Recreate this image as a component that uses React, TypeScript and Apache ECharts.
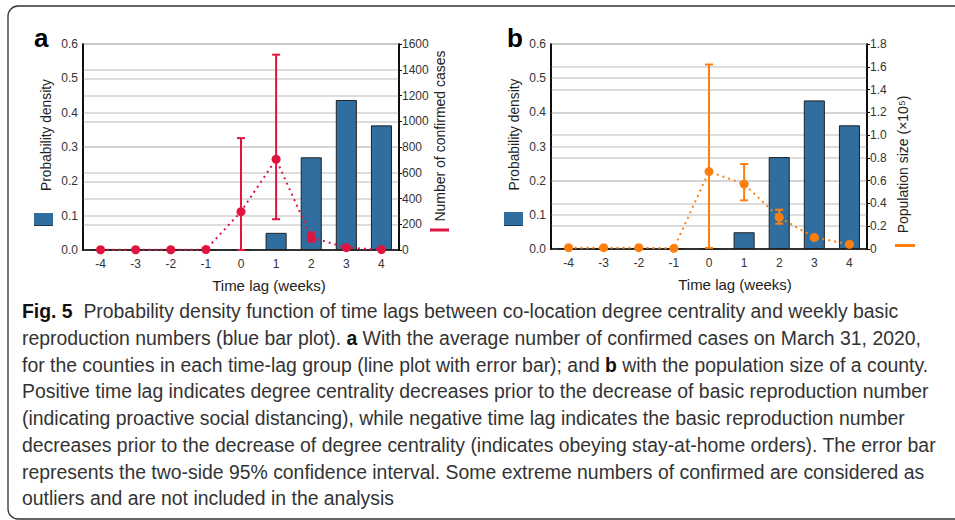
import React, { useEffect, useRef } from "react";
import * as echarts from "echarts";

const categories = ["-4", "-3", "-2", "-1", "0", "1", "2", "3", "4"];
const densityA = [0.001, 0.001, 0.001, 0.001, 0.002, 0.05, 0.27, 0.437, 0.363];
const densityB = [0.001, 0.001, 0.001, 0.001, 0.002, 0.049, 0.269, 0.435, 0.362];

const casesMean = [2, 2, 2, 3, 298, 705, 98, 18, 3];
const casesLow = [2, 2, 2, 3, 0, 239, 65, 10, 3];
const casesHigh = [2, 2, 2, 3, 869, 1517, 137, 26, 3];

const popMean = [0.012, 0.012, 0.012, 0.006, 0.68, 0.57, 0.278, 0.102, 0.041];
const popLow = [0.012, 0.012, 0.012, 0.006, 0.01, 0.427, 0.222, 0.094, 0.036];
const popHigh = [0.012, 0.012, 0.012, 0.006, 1.62, 0.746, 0.345, 0.11, 0.046];

const leftTicks = [0, 0.1, 0.2, 0.3, 0.4, 0.5, 0.6];
const rightTicksA = [0, 200, 400, 600, 800, 1000, 1200, 1400, 1600];
const rightTicksB = [0, 0.2, 0.4, 0.6, 0.8, 1.0, 1.2, 1.4, 1.6, 1.8];

const captionLines = [
  "{b|Fig. 5}  Probability density function of time lags between co-location degree centrality and weekly basic",
  "reproduction numbers (blue bar plot). {b|a} With the average number of confirmed cases on March 31, 2020,",
  "for the counties in each time-lag group (line plot with error bar); and {b|b} with the population size of a county.",
  "Positive time lag indicates degree centrality decreases prior to the decrease of basic reproduction number",
  "(indicating proactive social distancing), while negative time lag indicates the basic reproduction number",
  "decreases prior to the decrease of degree centrality (indicates obeying stay-at-home orders). The error bar",
  "represents the two-side 95% confidence interval. Some extreme numbers of confirmed are considered as",
  "outliers and are not included in the analysis",
];

const BLUE = "#2F6E9E";
const RED = "#E0143F";
const ORANGE = "#FF7F0E";
const FONT = "Liberation Sans, Arial, sans-serif";
const CAPFONT = "'Liberation Sans Narrow', 'Liberation Sans', sans-serif";

function errorRender(color: string) {
  return (params: any, api: any) => {
    const x = api.value(0);
    const lo = api.coord([x, api.value(1)]);
    const hi = api.coord([x, api.value(2)]);
    if (Math.abs(lo[1] - hi[1]) < 0.5) return { type: "group", children: [] };
    const w = 4;
    const style = { stroke: color, lineWidth: 2 };
    return {
      type: "group",
      children: [
        { type: "line", shape: { x1: lo[0], y1: lo[1], x2: hi[0], y2: hi[1] }, style },
        { type: "line", shape: { x1: hi[0] - w, y1: hi[1], x2: hi[0] + w, y2: hi[1] }, style },
        { type: "line", shape: { x1: lo[0] - w, y1: lo[1], x2: lo[0] + w, y2: lo[1] }, style },
      ],
    };
  };
}

export default function App() {
  const ref = useRef<HTMLDivElement>(null);
  useEffect(() => {
    document.body.style.margin = "0";
    const chart = echarts.init(ref.current!, null, { renderer: "svg" });
    const gridCommon = { top: 44, width: 316, height: 206, show: true, borderColor: "#000", borderWidth: 1.5, backgroundColor: "transparent" };
    const xAxisBase = (gi: number, shift: number) => ({
      type: "category",
      gridIndex: gi,
      data: categories,
      axisLine: { lineStyle: { color: "#000", width: 1.5 } },
      axisTick: { show: false },
      axisLabel: { fontSize: 12, color: "#333", margin: 8, fontFamily: FONT },
      name: "Time lag (weeks)",
      nameLocation: "middle",
      nameGap: 28,
      nameTextStyle: { fontSize: 15, color: "#222", fontFamily: FONT, padding: [0, 0, 0, shift] },
    });
    const leftAxis = (gi: number) => ({
      type: "value",
      gridIndex: gi,
      min: leftTicks[0],
      max: leftTicks[leftTicks.length - 1],
      interval: 0.1,
      axisLine: { show: true, lineStyle: { color: "#000", width: 1.5 } },
      axisTick: { show: false },
      axisLabel: { fontSize: 12, color: "#333", margin: 5, fontFamily: FONT, formatter: (v: number) => v.toFixed(1) },
      splitLine: { lineStyle: { color: "#d2d2d2", width: 1.5 } },
      name: "Probability density",
      nameLocation: "middle",
      nameRotate: 90,
      nameGap: 30,
      nameTextStyle: { fontSize: 13.8, color: "#222", fontFamily: FONT, padding: [0, 0, 0, 24] },
    });
    const rightAxis = (gi: number, ticks: number[], interval: number, name: string, gap: number, pad: number[], fmt: (v: number) => string) => ({
      type: "value",
      gridIndex: gi,
      position: "right",
      min: ticks[0],
      max: ticks[ticks.length - 1],
      interval,
      axisLine: { show: true, lineStyle: { color: "#000", width: 1.5 } },
      axisTick: { show: true, length: 3, lineStyle: { color: "#000" } },
      axisLabel: { fontSize: 12, color: "#333", margin: 3, fontFamily: FONT, formatter: fmt },
      splitLine: { show: true, lineStyle: { color: "#d2d2d2", width: 1.5 } },
      name,
      nameLocation: "middle",
      nameRotate: 90,
      nameGap: gap,
      nameTextStyle: { fontSize: 14, color: "#222", fontFamily: FONT, padding: pad },
    });
    const barSeries = (xi: number, yi: number, data: number[]) => ({
      type: "bar",
      xAxisIndex: xi,
      yAxisIndex: yi,
      data,
      barWidth: "60%",
      itemStyle: { color: BLUE, borderColor: "#222", borderWidth: 1 },
      z: 2,
    });
    const lineSeries = (xi: number, yi: number, data: number[], color: string) => ({
      type: "line",
      xAxisIndex: xi,
      yAxisIndex: yi,
      data,
      symbol: "circle",
      symbolSize: 9,
      itemStyle: { color },
      lineStyle: { color, width: 2, type: [2, 4] },
      z: 4,
    });
    const errSeries = (xi: number, yi: number, lo: number[], hi: number[], color: string) => ({
      type: "custom",
      xAxisIndex: xi,
      yAxisIndex: yi,
      data: lo.map((l, i) => [i, l, hi[i]]),
      renderItem: errorRender(color),
      z: 5,
    });
    const caption = captionLines.join("\n");
    chart.setOption({
      animation: false,
      textStyle: { fontFamily: FONT },
      grid: [
        { ...gridCommon, left: 83 },
        { ...gridCommon, left: 551, height: 205 },
      ],
      xAxis: [xAxisBase(0, 56), xAxisBase(1, 52)],
      yAxis: [
        leftAxis(0),
        rightAxis(0, rightTicksA, 200, "Number of confirmed cases", 34, [0, 0, 0, 22], (v: number) => String(v)),
        leftAxis(1),
        rightAxis(1, rightTicksB, 0.2, "Population size (×10⁵)", 29, [0, 36, 0, 0], (v: number) => (v === 0 ? "0" : v.toFixed(1))),
      ],
      series: [
        barSeries(0, 0, densityA),
        lineSeries(0, 1, casesMean, RED),
        errSeries(0, 1, casesLow, casesHigh, RED),
        barSeries(1, 2, densityB),
        lineSeries(1, 3, popMean, ORANGE),
        errSeries(1, 3, popLow, popHigh, ORANGE),
      ],
      graphic: [
        { type: "rect", shape: { x: 8, y: 6, width: 1000, height: 513, r: 10 }, style: { fill: "none", stroke: "#333", lineWidth: 1.3 }, silent: true },
        { type: "text", x: 34, y: 25, style: { text: "a", font: "bold 26px " + FONT, fill: "#000" } },
        { type: "text", x: 507, y: 25, style: { text: "b", font: "bold 26px " + FONT, fill: "#000" } },
        { type: "rect", shape: { x: 34, y: 213, width: 19, height: 12 }, style: { fill: BLUE } },
        { type: "line", shape: { x1: 34, y1: 225.5, x2: 53, y2: 225.5 }, style: { stroke: "#1a3a55", lineWidth: 1 } },
        { type: "rect", shape: { x: 504, y: 212, width: 19, height: 13 }, style: { fill: BLUE } },
        { type: "line", shape: { x1: 504, y1: 225.5, x2: 523, y2: 225.5 }, style: { stroke: "#1a3a55", lineWidth: 1 } },
        { type: "line", shape: { x1: 430, y1: 230, x2: 449, y2: 230 }, style: { stroke: RED, lineWidth: 3 } },
        { type: "line", shape: { x1: 895, y1: 245.5, x2: 915, y2: 245.5 }, style: { stroke: ORANGE, lineWidth: 3 } },
        {
          type: "text",
          x: 22,
          y: 298,
          style: {
            text: caption,
            fontSize: 19.4,
            fontFamily: CAPFONT,
            lineHeight: 26.7,
            fill: "#333",
            rich: {
              b: { fontSize: 19.4, fontFamily: CAPFONT, fontWeight: "bold", fill: "#111", lineHeight: 26.7 },
            },
          },
        },
      ],
    });
    return () => chart.dispose();
  }, []);
  return <div ref={ref} style={{ width: 955, height: 520 }} />;
}
